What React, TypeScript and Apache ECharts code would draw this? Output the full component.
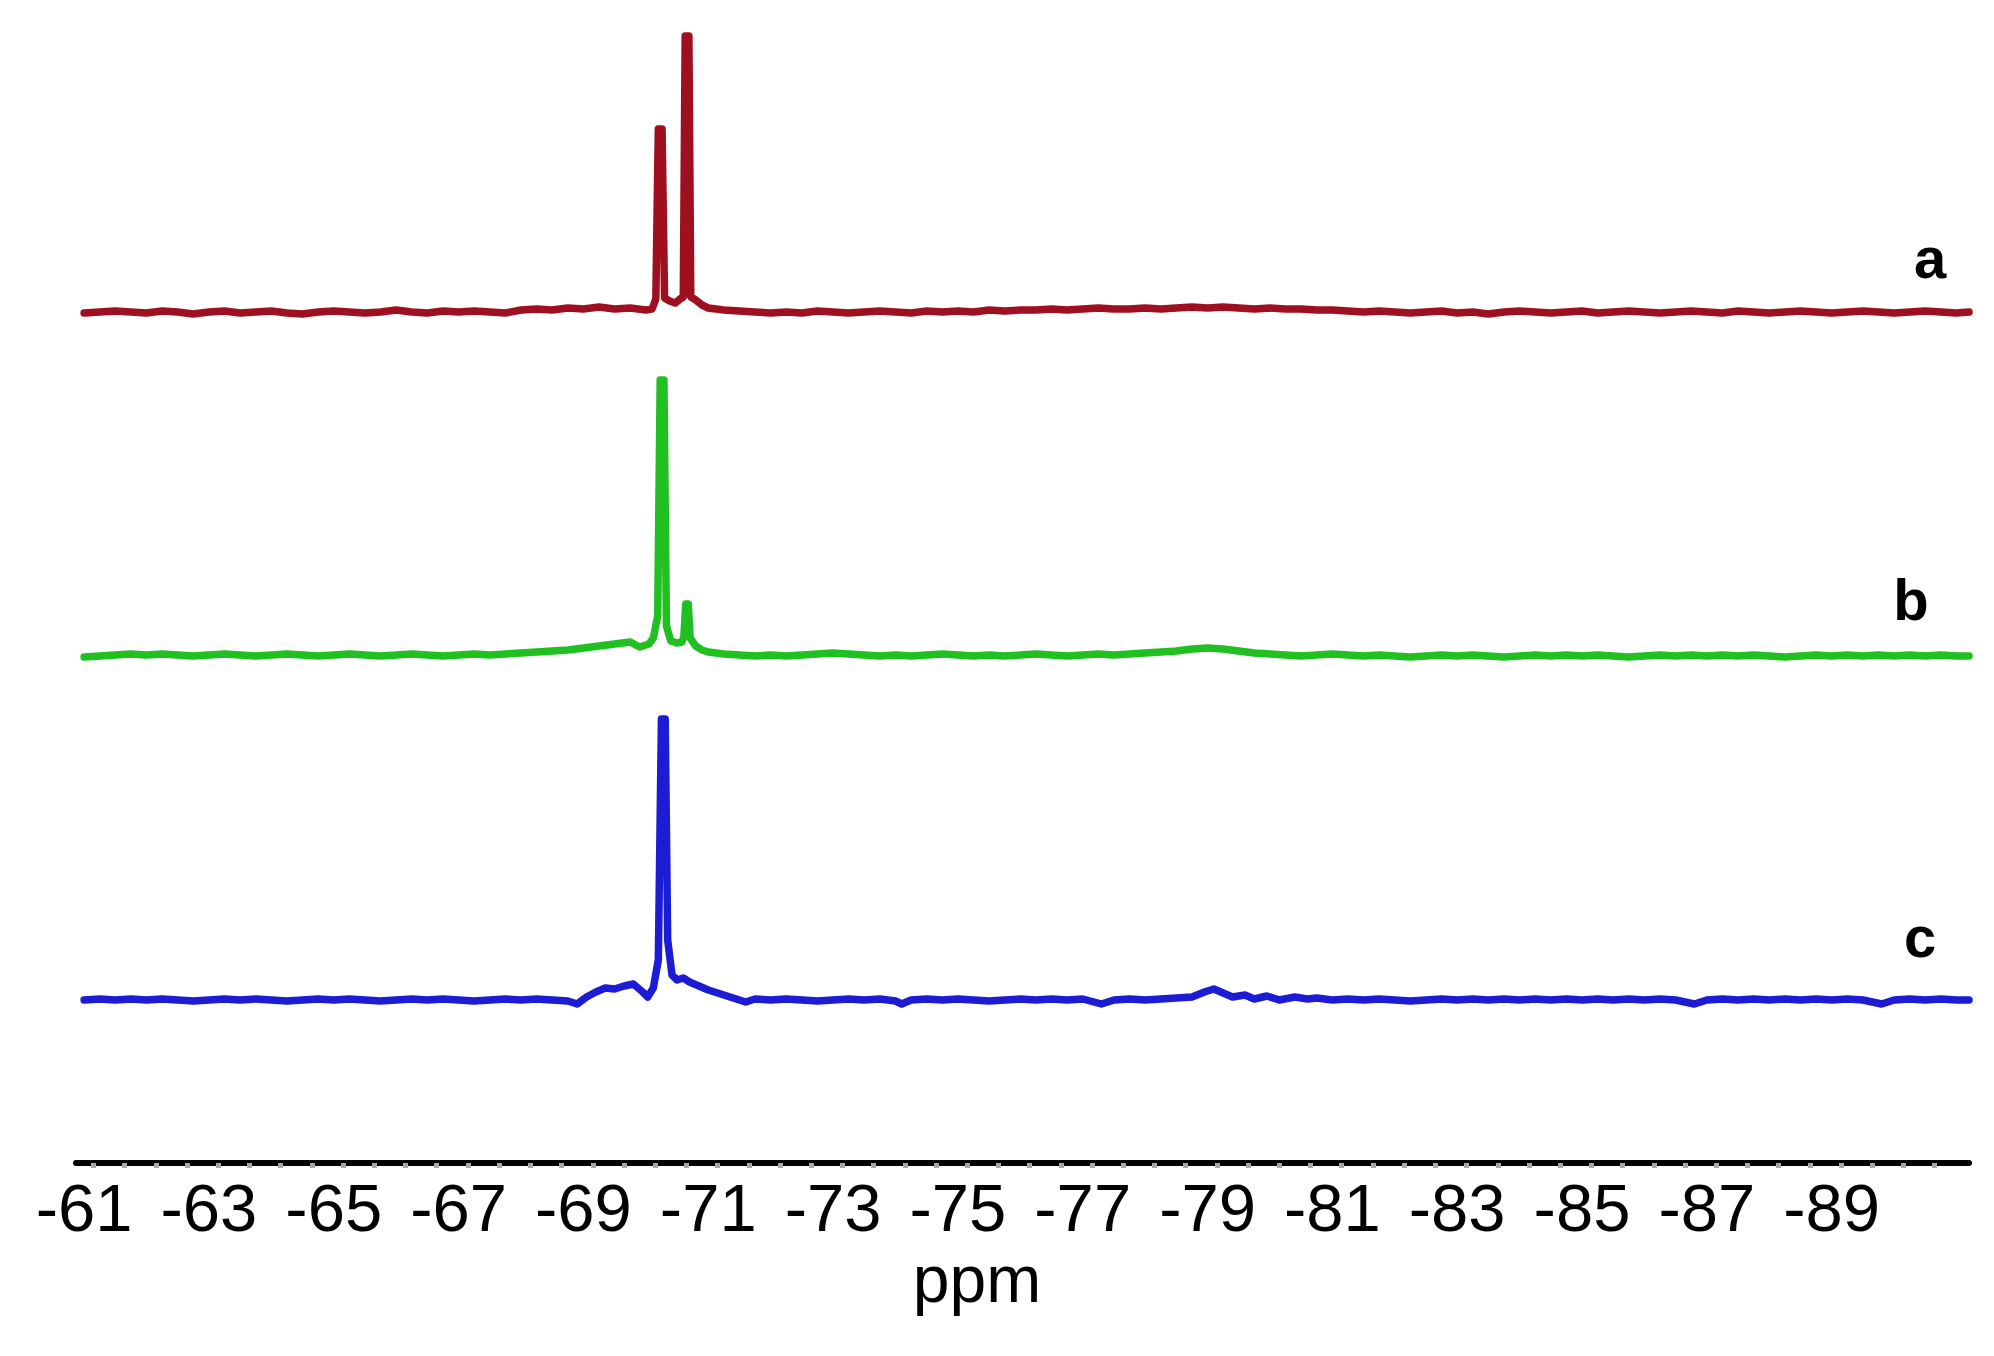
import React, { useEffect, useRef } from "react";
import * as echarts from "echarts";

// Chemical shift (ppm) tick labels on the x axis
const tickLabels: number[] = [-61, -63, -65, -67, -69, -71, -73, -75, -77, -79, -81, -83, -85, -87, -89];
const axisName = "ppm";
const traceNames = ["a", "b", "c"];

// Spectrum a: [ppm, intensity above its own baseline]
const traceA: [number, number][] = [
  [-61, 0], [-61.25, 1], [-61.5, 2], [-61.75, 1], [-62, 0], [-62.25, 2], [-62.5, 1], [-62.75, -1],
  [-63, 1], [-63.25, 2], [-63.5, 0], [-63.75, 1], [-64, 2], [-64.25, 0], [-64.5, -1], [-64.75, 1],
  [-65, 2], [-65.25, 1], [-65.5, 0], [-65.75, 1], [-66, 3], [-66.25, 1], [-66.5, 0], [-66.75, 2],
  [-67, 1], [-67.25, 2], [-67.5, 1], [-67.75, 0], [-68, 3], [-68.25, 4], [-68.5, 3], [-68.75, 5],
  [-69, 4], [-69.25, 6], [-69.5, 4], [-69.75, 5], [-70, 3], [-70.1, 4],
  [-70.16, 14], [-70.2, 184], [-70.26, 184], [-70.3, 15],
  [-70.38, 12], [-70.47, 10], [-70.55, 14],
  [-70.6, 16], [-70.63, 277], [-70.69, 277], [-70.72, 16],
  [-70.8, 13], [-70.9, 8], [-71, 5], [-71.25, 3], [-71.5, 2], [-71.75, 1],
  [-72, 0], [-72.25, 1], [-72.5, 0], [-72.75, 2], [-73, 1], [-73.25, 0], [-73.5, 1], [-73.75, 2],
  [-74, 1], [-74.25, 0], [-74.5, 2], [-74.75, 1], [-75, 2], [-75.25, 1], [-75.5, 3], [-75.75, 2],
  [-76, 3], [-76.25, 3], [-76.5, 4], [-76.75, 3], [-77, 4], [-77.25, 5], [-77.5, 4], [-77.75, 4],
  [-78, 5], [-78.25, 4], [-78.5, 5], [-78.75, 6], [-79, 5], [-79.25, 6], [-79.5, 5], [-79.75, 4],
  [-80, 5], [-80.25, 4], [-80.5, 4], [-80.75, 3], [-81, 3], [-81.25, 2], [-81.5, 1], [-81.75, 2],
  [-82, 1], [-82.25, 0], [-82.5, 1], [-82.75, 2], [-83, 0], [-83.25, 1], [-83.5, -1], [-83.75, 1],
  [-84, 2], [-84.25, 1], [-84.5, 0], [-84.75, 1], [-85, 2], [-85.25, 0], [-85.5, 1], [-85.75, 2],
  [-86, 1], [-86.25, 0], [-86.5, 1], [-86.75, 2], [-87, 1], [-87.25, 0], [-87.5, 2], [-87.75, 1],
  [-88, 0], [-88.25, 1], [-88.5, 2], [-88.75, 1], [-89, 0], [-89.25, 1], [-89.5, 2], [-89.75, 1],
  [-90, 0], [-90.25, 1], [-90.5, 2], [-90.75, 1], [-91, 0], [-91.2, 1],
];

// Spectrum b
const traceB: [number, number][] = [
  [-61, -1], [-61.25, 0], [-61.5, 1], [-61.75, 2], [-62, 1], [-62.25, 2], [-62.5, 1], [-62.75, 0],
  [-63, 1], [-63.25, 2], [-63.5, 1], [-63.75, 0], [-64, 1], [-64.25, 2], [-64.5, 1], [-64.75, 0],
  [-65, 1], [-65.25, 2], [-65.5, 1], [-65.75, 0], [-66, 1], [-66.25, 2], [-66.5, 1], [-66.75, 0],
  [-67, 1], [-67.25, 2], [-67.5, 1], [-67.75, 2], [-68, 3], [-68.25, 4], [-68.5, 5], [-68.75, 6],
  [-69, 8], [-69.25, 10], [-69.5, 12], [-69.75, 14], [-69.9, 9], [-70.05, 12], [-70.12, 18],
  [-70.19, 40], [-70.23, 276], [-70.29, 276], [-70.33, 30],
  [-70.4, 15], [-70.5, 13], [-70.58, 14],
  [-70.61, 20], [-70.64, 52], [-70.68, 52], [-70.71, 18],
  [-70.8, 10], [-70.9, 6], [-71, 4], [-71.25, 2], [-71.5, 1], [-71.75, 0],
  [-72, 1], [-72.25, 0], [-72.5, 1], [-72.75, 2], [-73, 3], [-73.25, 2], [-73.5, 1], [-73.75, 0],
  [-74, 1], [-74.25, 0], [-74.5, 1], [-74.75, 2], [-75, 1], [-75.25, 0], [-75.5, 1], [-75.75, 0],
  [-76, 1], [-76.25, 2], [-76.5, 1], [-76.75, 0], [-77, 1], [-77.25, 2], [-77.5, 1], [-77.75, 2],
  [-78, 3], [-78.25, 4], [-78.5, 5], [-78.75, 7], [-79, 8], [-79.25, 7], [-79.5, 5], [-79.75, 3],
  [-80, 2], [-80.25, 1], [-80.5, 0], [-80.75, 1], [-81, 2], [-81.25, 1], [-81.5, 0], [-81.75, 1],
  [-82, 0], [-82.25, -1], [-82.5, 0], [-82.75, 1], [-83, 0], [-83.25, 1], [-83.5, 0], [-83.75, -1],
  [-84, 0], [-84.25, 1], [-84.5, 0], [-84.75, 1], [-85, 0], [-85.25, 1], [-85.5, 0], [-85.75, -1],
  [-86, 0], [-86.25, 1], [-86.5, 0], [-86.75, 1], [-87, 0], [-87.25, 1], [-87.5, 0], [-87.75, 1],
  [-88, 0], [-88.25, -1], [-88.5, 0], [-88.75, 1], [-89, 0], [-89.25, 1], [-89.5, 0], [-89.75, 1],
  [-90, 0], [-90.25, 1], [-90.5, 0], [-90.75, 1], [-91, 0], [-91.2, 0],
];

// Spectrum c
const traceC: [number, number][] = [
  [-61, 0], [-61.25, 1], [-61.5, 0], [-61.75, 1], [-62, 0], [-62.25, 1], [-62.5, 0], [-62.75, -1],
  [-63, 0], [-63.25, 1], [-63.5, 0], [-63.75, 1], [-64, 0], [-64.25, -1], [-64.5, 0], [-64.75, 1],
  [-65, 0], [-65.25, 1], [-65.5, 0], [-65.75, -1], [-66, 0], [-66.25, 1], [-66.5, 0], [-66.75, 1],
  [-67, 0], [-67.25, -1], [-67.5, 0], [-67.75, 1], [-68, 0], [-68.25, 1], [-68.5, 0], [-68.75, -1],
  [-68.9, -4], [-69.05, 3], [-69.2, 8], [-69.35, 12], [-69.5, 11], [-69.65, 14], [-69.8, 16],
  [-69.95, 8], [-70.03, 3], [-70.12, 12],
  [-70.2, 40], [-70.25, 281], [-70.31, 281], [-70.35, 60],
  [-70.42, 25], [-70.5, 20], [-70.6, 22], [-70.7, 18], [-70.85, 14], [-71, 10], [-71.2, 6],
  [-71.4, 2], [-71.6, -2], [-71.75, 1],
  [-72, 0], [-72.25, 1], [-72.5, 0], [-72.75, -1], [-73, 0], [-73.25, 1], [-73.5, 0], [-73.75, 1],
  [-74, -1], [-74.1, -4], [-74.25, 0], [-74.5, 1], [-74.75, 0], [-75, 1], [-75.25, 0], [-75.5, -1],
  [-75.75, 0], [-76, 1], [-76.25, 0], [-76.5, 1], [-76.75, 0], [-77, 1], [-77.3, -4], [-77.5, 0],
  [-77.75, 1], [-78, 0], [-78.25, 1], [-78.5, 2], [-78.75, 3], [-78.95, 8], [-79.1, 11], [-79.25, 7],
  [-79.4, 3], [-79.6, 5], [-79.75, 1], [-79.95, 4], [-80.15, 0], [-80.4, 3], [-80.6, 1], [-80.75, 2],
  [-81, 0], [-81.25, 1], [-81.5, 0], [-81.75, 1], [-82, 0], [-82.25, -1], [-82.5, 0], [-82.75, 1],
  [-83, 0], [-83.25, 1], [-83.5, 0], [-83.75, 1], [-84, 0], [-84.25, 1], [-84.5, 0], [-84.75, 1],
  [-85, 0], [-85.25, 1], [-85.5, 0], [-85.75, 1], [-86, 0], [-86.25, 1], [-86.5, 0], [-86.8, -4],
  [-87, 0], [-87.25, 1], [-87.5, 0], [-87.75, 1], [-88, 0], [-88.25, 1], [-88.5, 0], [-88.75, 1],
  [-89, 0], [-89.25, 1], [-89.5, 0], [-89.8, -4], [-90, 0], [-90.25, 1], [-90.5, 0], [-90.75, 1],
  [-91, 0], [-91.2, 0],
];

const X_MIN = -91.2;
const X_MAX = -60.87;

export default function App() {
  const ref = useRef<HTMLDivElement>(null);

  useEffect(() => {
    if (!ref.current) return;
    const chart = echarts.init(ref.current, null, { renderer: "svg" });

    // stacking offsets (vertical display shift of each spectrum)
    const offsets = [850, 507, 163];
    const colors = ["#9e1020", "#20c020", "#1c1cd4"];
    const traces = [traceA, traceB, traceC];

    const dotValues: number[] = [];
    for (let v = -61.15; v >= -91.0; v -= 0.5) dotValues.push(Math.round(v * 100) / 100);

    const labelPos = [
      { x: 1930, y: 257 },
      { x: 1911, y: 599 },
      { x: 1920, y: 936 },
    ];

    chart.setOption({
      animation: false,
      backgroundColor: "#ffffff",
      grid: { left: 76, right: 25, top: 13, bottom: 193, containLabel: false },
      xAxis: [
        {
          type: "value",
          min: X_MIN,
          max: X_MAX,
          inverse: true,
          position: "bottom",
          axisLine: { show: true, onZero: false, lineStyle: { color: "#000", width: 6 } },
          axisTick: { show: false },
          splitLine: { show: false },
          axisLabel: {
            show: true,
            customValues: tickLabels,
            fontSize: 67,
            fontFamily: "Liberation Sans, Arial, sans-serif",
            color: "#000",
            margin: 11,
          },
        },
        {
          type: "value",
          min: X_MIN,
          max: X_MAX,
          inverse: true,
          position: "bottom",
          offset: 9,
          axisLine: { show: false },
          axisLabel: { show: false },
          splitLine: { show: false },
          axisTick: {
            show: true,
            customValues: dotValues,
            length: 5,
            lineStyle: { color: "#a9a9a9", width: 5 },
          },
        },
      ],
      yAxis: {
        type: "value",
        min: 0,
        max: 1150,
        show: false,
      },
      series: traces.map((t, i) => ({
        type: "line",
        name: traceNames[i],
        xAxisIndex: 0,
        data: t.map(([x, y]) => [x, y + offsets[i]]),
        showSymbol: false,
        symbol: "none",
        smooth: false,
        lineStyle: { color: colors[i], width: 7.5, cap: "round", join: "round" },
        z: 3,
      })),
      graphic: [
        ...traceNames.map((n, i) => ({
          type: "text",
          x: labelPos[i].x,
          y: labelPos[i].y,
          style: {
            text: n,
            fontSize: 58,
            fontWeight: "bold",
            fontFamily: "Liberation Sans, Arial, sans-serif",
            fill: "#000",
            textAlign: "center",
            textVerticalAlign: "middle",
          },
        })),
        {
          type: "text",
          x: 977,
          y: 1279,
          style: {
            text: axisName,
            fontSize: 66,
            fontFamily: "Liberation Sans, Arial, sans-serif",
            fill: "#000",
            textAlign: "center",
            textVerticalAlign: "middle",
          },
        },
      ],
    });

    return () => chart.dispose();
  }, []);

  return (
    <div
      ref={ref}
      style={{ position: "absolute", left: 0, top: 0, width: 1994, height: 1356, background: "#fff" }}
    />
  );
}
